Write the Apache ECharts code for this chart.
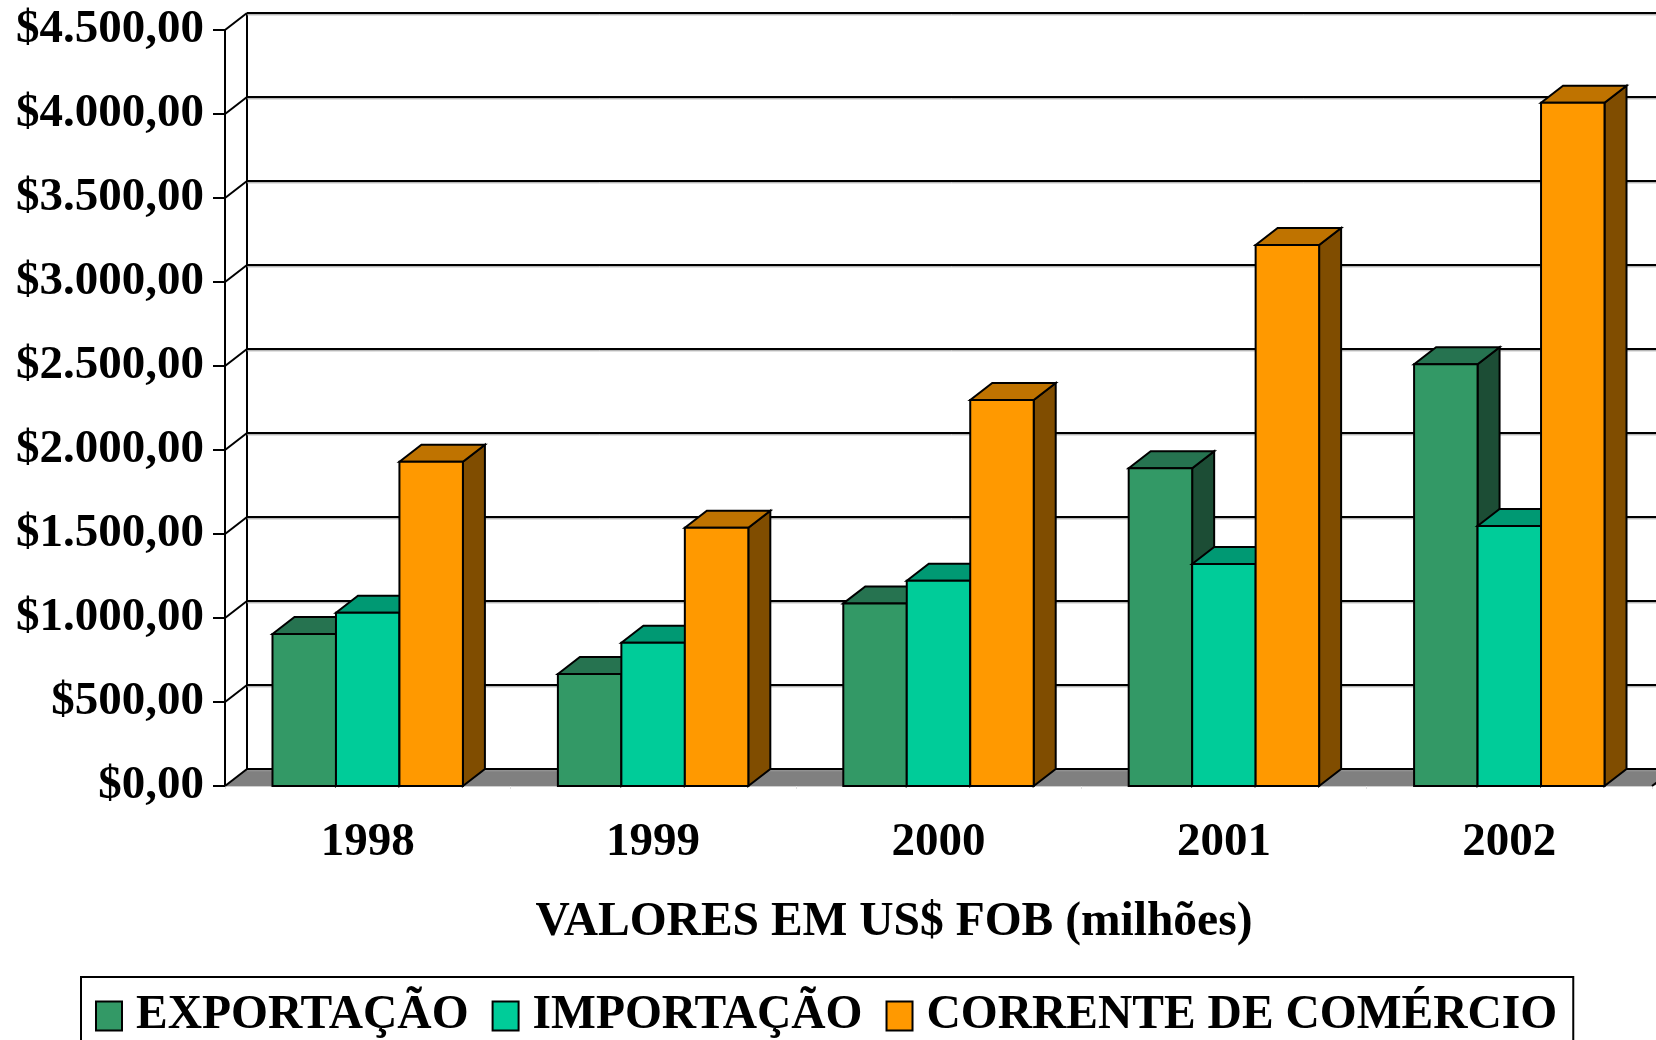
<!DOCTYPE html>
<html>
<head>
<meta charset="utf-8">
<script src="https://cdn.jsdelivr.net/npm/echarts@6/dist/echarts.min.js"></script>
<style>
  html, body { margin: 0; padding: 0; background: #ffffff; }
  #chart { width: 1656px; height: 1040px; }
</style>
</head>
<body>
<div id="chart"></div>
<script>
const categories = ['1998', '1999', '2000', '2001', '2002'];
const seriesNames = ['EXPORTAÇÃO', 'IMPORTAÇÃO', 'CORRENTE DE COMÉRCIO'];
const exportacao = [905, 667, 1087, 1891, 2510];
const importacao = [1031, 853, 1222, 1321, 1548];
const corrente = [1930, 1537, 2298, 3220, 4067];
const yTicks = [0, 500, 1000, 1500, 2000, 2500, 3000, 3500, 4000, 4500];
const yTickLabels = ['$0,00', '$500,00', '$1.000,00', '$1.500,00', '$2.000,00',
  '$2.500,00', '$3.000,00', '$3.500,00', '$4.000,00', '$4.500,00'];
const axisTitle = 'VALORES EM US$ FOB (milhões)';

const faceColors = [
  { front: '#339966', top: '#267350', side: '#1c4d35' },
  { front: '#00cc99', top: '#009973', side: '#00664d' },
  { front: '#ff9900', top: '#bf7300', side: '#804d00' }
];
const DX = 22, DY = 17, BAR_FRAC = 0.2224;
const FONT = '"Liberation Serif", "Times New Roman", serif';

function barRender(si) {
  const c = faceColors[si];
  return function (params, api) {
    const ci = api.value(0), v = api.value(1);
    const base = api.coord([ci, 0]);
    const top = api.coord([ci, v]);
    const band = api.size([1, 0])[0];
    const bw = band * BAR_FRAC;
    const x0 = base[0] + (si - 1.5) * bw, x1 = x0 + bw;
    const yb = base[1], yt = top[1];
    const st = (fill) => ({ fill: fill, stroke: '#000', lineWidth: 2, lineJoin: 'miter' });
    return {
      type: 'group',
      children: [
        { type: 'polygon', shape: { points: [[x1, yb], [x1 + DX, yb - DY], [x1 + DX, yt - DY], [x1, yt]] }, style: st(c.side) },
        { type: 'polygon', shape: { points: [[x0, yt], [x0 + DX, yt - DY], [x1 + DX, yt - DY], [x1, yt]] }, style: st(c.top) },
        { type: 'rect', shape: { x: x0, y: yt, width: bw, height: yb - yt }, style: st(c.front) }
      ]
    };
  };
}

function frameRender(params, api) {
  const v = api.value(1);
  const p = api.coord([0, v]);
  const band = api.size([1, 0])[0];
  const x0 = p[0] - band / 2;
  const y = p[1];
  const W = api.getWidth();
  const children = [];
  if (v === 0) {
    const xEnd = x0 + band * categories.length;
    const yTop = api.coord([0, yTicks[yTicks.length - 1]])[1];
    children.push({ type: 'polygon', shape: { points: [[x0, y], [x0 + DX, y - DY], [xEnd + DX + 40, y - DY], [xEnd, y]] }, style: { fill: '#808080' } });
    children.push({ type: 'line', shape: { x1: xEnd, y1: y, x2: xEnd + DX, y2: y - DY }, style: { stroke: '#000', lineWidth: 2 } });
    children.push({ type: 'line', shape: { x1: x0 + DX, y1: y - DY, x2: x0 + DX, y2: yTop - DY }, style: { stroke: '#000', lineWidth: 2 } });
  }
  children.push({ type: 'line', shape: { x1: x0 + DX, y1: y - DY + 1.8, x2: W, y2: y - DY + 1.8 }, style: { stroke: '#9a9a9a', lineWidth: 1 } });
  children.push({ type: 'line', shape: { x1: x0 + DX, y1: y - DY, x2: W, y2: y - DY }, style: { stroke: '#000', lineWidth: 2 } });
  children.push({ type: 'line', shape: { x1: x0, y1: y, x2: x0 + DX, y2: y - DY }, style: { stroke: '#000', lineWidth: 2 } });
  return { type: 'group', children: children };
}

const valueArrays = [exportacao, importacao, corrente];

const chart = echarts.init(document.getElementById('chart'), null, { renderer: 'canvas' });
const option = {
  backgroundColor: '#ffffff',
  animation: false,
  textStyle: { fontFamily: FONT },
  grid: { left: 225, right: 4, top: 30, bottom: 254, containLabel: false },
  xAxis: {
    type: 'category',
    data: categories,
    axisLine: { show: true, lineStyle: { color: '#cfcfcf', width: 2 } },
    axisTick: { show: true, length: 3, lineStyle: { color: '#e0e0e0', width: 1 } },
    axisLabel: { margin: 33, color: '#000', fontSize: 47, fontWeight: 'bold', fontFamily: FONT },
    splitLine: { show: false }
  },
  yAxis: {
    type: 'value',
    min: 0, max: 4500, interval: 500,
    axisLine: { show: true, lineStyle: { color: '#000', width: 2 } },
    axisTick: { show: true, length: 12, lineStyle: { color: '#000', width: 2 } },
    axisLabel: {
      margin: 21, color: '#000', fontSize: 47, fontWeight: 'bold', fontFamily: FONT,
      formatter: function (val) { return yTickLabels[yTicks.indexOf(val)]; }
    },
    splitLine: { show: false }
  },
  legend: {
    data: seriesNames,
    left: 81, top: 977,
    padding: [15, 16, 50, 14],
    borderColor: '#000', borderWidth: 2,
    backgroundColor: '#fff',
    itemWidth: 26, itemHeight: 29, itemGap: 23,
    icon: 'rect',
    selectedMode: false,
    textStyle: { color: '#000', fontSize: 47.5, fontWeight: 'bold', fontFamily: FONT, padding: [0, 0, 0, 9] },
    itemStyle: { borderColor: '#000', borderWidth: 2 }
  },
  graphic: [{
    type: 'text',
    x: 894, y: 923,
    style: { text: axisTitle, textAlign: 'center', textVerticalAlign: 'middle', fill: '#000', font: 'bold 47.5px ' + FONT }
  }],
  series: [
    {
      type: 'custom', name: '_frame', silent: true, clip: false, z: 1,
      renderItem: frameRender,
      data: yTicks.map(v => [0, v]),
      encode: { x: 0, y: 1 }
    }
  ].concat(seriesNames.map((nm, si) => ({
    type: 'custom', name: nm, clip: false, z: 2 + si,
    itemStyle: { color: faceColors[si].front },
    renderItem: barRender(si),
    data: valueArrays[si].map((v, i) => [i, v]),
    encode: { x: 0, y: 1 }
  })))
};
chart.setOption(option);
</script>
</body>
</html>
